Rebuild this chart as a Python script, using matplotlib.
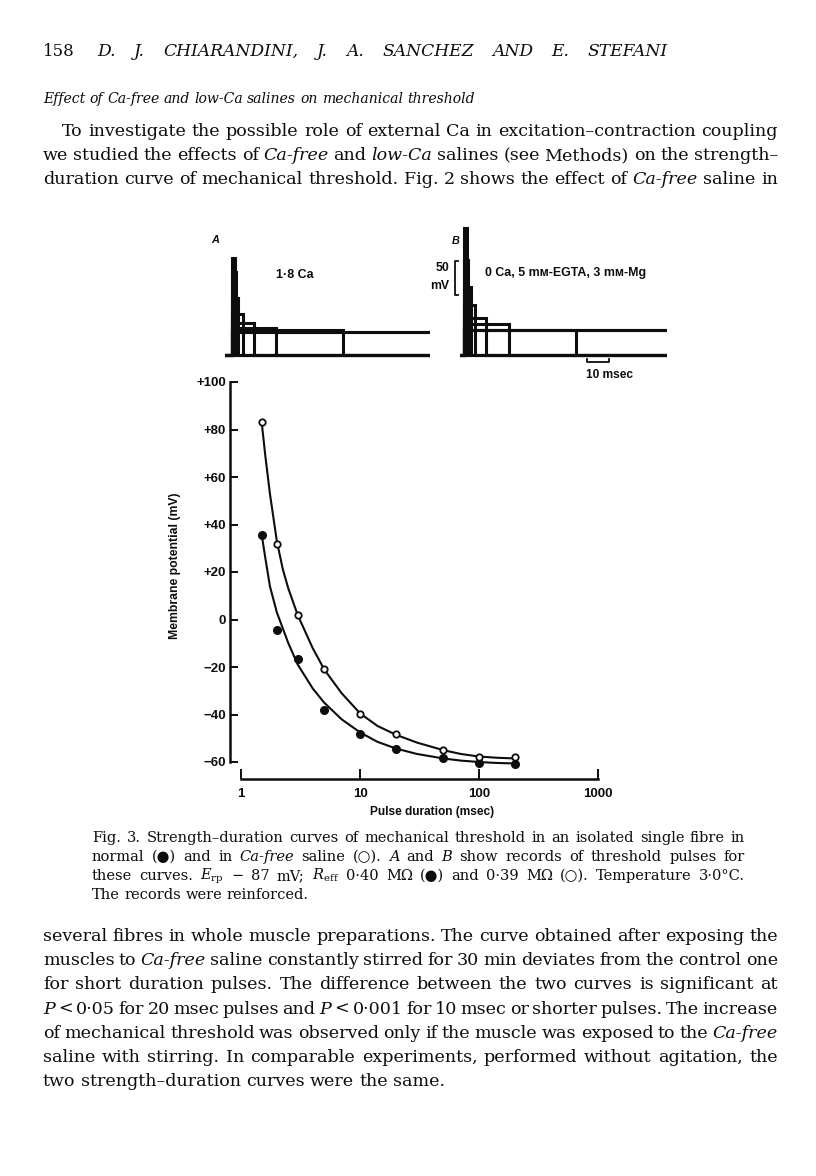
import matplotlib
matplotlib.use('Agg')
import matplotlib.pyplot as plt
from matplotlib.ticker import NullLocator

# page size in pixels (dpi 100)
W, H = 816, 1176
INK = '#0d0d0d'
SERIF = ['DejaVu Serif', 'DejaVu Sans']
SANS = ['Liberation Sans', 'DejaVu Sans']
plt.rcParams['mathtext.fontset'] = 'dejavuserif'

# --- data ---------------------------------------------------------------
durations = [1.5, 2, 3, 5, 10, 20, 50, 100, 200]          # msec
normal_mv = [35.5, -4.5, -16.5, -38, -48, -54.7, -58.5, -60.3, -60.8]
cafree_mv = [83, 32, 1.9, -21, -39.8, -48, -55, -57.8, -58]

# hand-drawn fitted curves
normal_fit_t = [1.5, 1.6, 1.75, 2, 2.5, 3, 4, 5, 7, 10, 14, 20, 30, 50, 70, 100, 140, 200]
normal_fit_mv = [35, 26, 14, 3, -10, -19, -29, -35, -42, -47.5, -51.5, -54.3, -56.6,
                 -58.5, -59.4, -60, -60.4, -60.6]
cafree_fit_t = [1.5, 1.6, 1.75, 2, 2.25, 2.5, 3, 4, 5, 7, 10, 14, 20, 30, 50, 70, 100, 140, 200]
cafree_fit_mv = [82, 69, 53, 33, 21, 13, 1.8, -12, -21, -31, -39.5, -44.8, -48.5, -51.8,
                 -55, -56.6, -57.7, -58.2, -58.5]

# inset records: pulse amplitude above rest (mV) for each duration
pulse_ms = [1.5, 2, 3, 5, 10, 20, 50, 100, 200]
rec_a_mv = [143, 122, 84, 60, 47, 40, 37, 34, 34]
rec_b_mv = [187, 140, 100, 74, 54, 46, 37, 37, 37]

yticks = [-60, -40, -20, 0, 20, 40, 60, 80, 100]
ytick_labels = ['\u221260', '\u221240', '\u221220', '0', '+20', '+40', '+60', '+80', '+100']
xticks = [1, 10, 100, 1000]
xtick_labels = ['1', '10', '100', '1000']

header_no = '158'
header = 'D. J. CHIARANDINI, J. A. SANCHEZ AND E. STEFANI'
heading = 'Effect of Ca-free and low-Ca salines on mechanical threshold'
body_top = [
    'To investigate the possible role of external Ca in excitation\u2013contraction coupling',
    'we studied the effects of *Ca-free* and *low-Ca* salines (see Methods) on the strength\u2013',
    'duration curve of mechanical threshold. Fig. 2 shows the effect of *Ca-free* saline in',
]
caption = [
    'Fig. 3. Strength\u2013duration curves of mechanical threshold in an isolated single fibre in',
    'normal (\u25cf) and in *Ca-free* saline (\u25cb). *A* and *B* show records of threshold pulses for',
    'these curves. $E_{\\mathrm{rp}}$ \u2212 87 mV; $R_{\\mathrm{eff}}$ 0\u00b740 M\u03a9 (\u25cf) and 0\u00b739 M\u03a9 (\u25cb). Temperature 3\u00b70\u00b0C.',
    'The records were reinforced.',
]
body_bottom = [
    'several fibres in whole muscle preparations. The curve obtained after exposing the',
    'muscles to *Ca-free* saline constantly stirred for 30 min deviates from the control one',
    'for short duration pulses. The difference between the two curves is significant at',
    '*P* < 0\u00b705 for 20 msec pulses and *P* < 0\u00b7001 for 10 msec or shorter pulses. The increase',
    'of mechanical threshold was observed only if the muscle was exposed to the *Ca-free*',
    'saline with stirring. In comparable experiments, performed without agitation, the',
    'two strength\u2013duration curves were the same.',
]


def fx(x):
    return x / W


def fy(y):
    return 1 - y / H


fig = plt.figure(figsize=(W / 100, H / 100), dpi=100)
fig.patch.set_facecolor('white')
renderer = fig.canvas.get_renderer()


def put_line(y, line, x0, x1, size, justify=True, italic=False):
    objs = []
    for tok in line.split(' '):
        style = 'italic' if italic else 'normal'
        if len(tok) > 2 and tok[0] == '*' and tok[-1] == '*':
            tok, style = tok[1:-1], 'italic'
        objs.append(fig.text(0, fy(y), tok, fontsize=size, fontstyle=style,
                             family=SERIF, color=INK, va='baseline'))
    widths = [o.get_window_extent(renderer).width for o in objs]
    if justify and len(objs) > 1:
        gap = (x1 - x0 - sum(widths)) / (len(objs) - 1)
    else:
        gap = size * 100 / 72 * 0.3
    x = x0
    for o, w in zip(objs, widths):
        o.set_x(fx(x))
        x += w + gap


# --- page text ------------------------------------------------------------
fig.text(fx(43), fy(56), header_no, fontsize=12, family=SERIF, color=INK, va='baseline')
put_line(56, header, 97, 668, 12.3, italic=True)
put_line(103, heading, 43, 468, 10.1, justify=False, italic=True)
for i, line in enumerate(body_top):
    put_line(136 + 24 * i, line, 62 if i == 0 else 43, 778, 12.6)
for i, line in enumerate(caption):
    put_line(842 + 19 * i, line, 92, 745, 10.5, justify=i < len(caption) - 1)
for i, line in enumerate(body_bottom):
    put_line(941 + 24.2 * i, line, 43, 778, 12.6, justify=i < len(body_bottom) - 1)

# --- main strength-duration plot ---------------------------------------------
AX_L, AX_R, X1_PX, DEC_PX = 230, 620, 241, 119
ax = fig.add_axes([fx(AX_L), fy(762), (AX_R - AX_L) / W, (762 - 382) / H])
ax.set_xscale('log')
ax.set_xlim(10 ** ((AX_L - X1_PX) / DEC_PX), 10 ** ((AX_R - X1_PX) / DEC_PX))
ax.set_ylim(-60, 100)
ax.plot(normal_fit_t, normal_fit_mv, color=INK, lw=1.5, clip_on=False)
ax.plot(cafree_fit_t, cafree_fit_mv, color=INK, lw=1.5, clip_on=False)
ax.plot(durations, normal_mv, 'o', ms=5.5, color=INK, clip_on=False, zorder=3)
ax.plot(durations, cafree_mv, 'o', ms=4.6, mfc='white', mec=INK, mew=1.3,
        clip_on=False, zorder=3)

for s in ['top', 'right']:
    ax.spines[s].set_visible(False)
ax.spines['left'].set_linewidth(1.8)
ax.spines['bottom'].set_linewidth(1.8)
ax.spines['bottom'].set_position(('outward', 12.2))
ax.spines['bottom'].set_bounds(1, 1000)
ax.spines['left'].set_color(INK)
ax.spines['bottom'].set_color(INK)
ax.set_yticks(yticks, ytick_labels, fontsize=9.5, fontweight='bold', family=SANS, color=INK)
ax.set_xticks(xticks, xtick_labels, fontsize=9.5, fontweight='bold', family=SANS, color=INK)
ax.xaxis.set_minor_locator(NullLocator())
ax.tick_params(axis='y', direction='in', length=5.8, width=1.4, pad=3, color=INK)
ax.tick_params(axis='x', direction='in', length=7, width=1.4, pad=6.5, color=INK)
ax.patch.set_alpha(0)

fig.text(fx(432), fy(812), 'Pulse duration (msec)', fontsize=8.6, fontweight='bold',
         family=SANS, color=INK, ha='center', va='center')
fig.text(fx(175), fy(566), 'Membrane potential (mV)', fontsize=8.8, fontweight='bold',
         family=SANS, color=INK, ha='center', va='center', rotation=90)

# --- inset records A and B -----------------------------------------------
PX_MS, PX_MV = 2.23, 0.68
ylo, yhi = (355 - 360) / PX_MV, (355 - 215) / PX_MV


def record_axes(x0, x1, onset, amps):
    a = fig.add_axes([fx(x0), fy(360), (x1 - x0) / W, 145 / H])
    a.axis('off')
    a.set_xlim((x0 - onset) / PX_MS, (x1 - onset) / PX_MS)
    a.set_ylim(ylo, yhi)
    for d, h in zip(pulse_ms, amps):
        a.plot([-20, 0, 0, d, d, 400], [0, 0, h, h, 0, 0], color=INK, lw=2.2,
               solid_joinstyle='miter', solid_capstyle='butt')
    return a


axA = record_axes(225, 430, 231.7, rec_a_mv)
axB = record_axes(460, 666.7, 464, rec_b_mv)

# 50 mV calibration bracket
bx = (455 - 464) / PX_MS
by = (355 - 295) / PX_MV
axB.plot([bx + 1.4, bx, bx, bx + 1.4], [by, by, by + 50, by + 50], color=INK, lw=1.3,
         clip_on=False)
axB.text((449 - 464) / PX_MS, (355 - 268) / PX_MV, '50', fontsize=8.8, fontweight='bold',
         family=SANS, color=INK, ha='right', va='center')
axB.text((449 - 464) / PX_MS, (355 - 286) / PX_MV, 'mV', fontsize=8.8, fontweight='bold',
         family=SANS, color=INK, ha='right', va='center')
# 10 msec time bar
tx0 = (586.7 - 464) / PX_MS
ty = (355 - 361.7) / PX_MV
axB.plot([tx0, tx0, tx0 + 10, tx0 + 10], [ty + 3.5, ty, ty, ty + 3.5], color=INK, lw=1.3,
         clip_on=False)
axB.text((610 - 464) / PX_MS, (355 - 375) / PX_MV, '10 msec', fontsize=8.6,
         fontweight='bold', family=SANS, color=INK, ha='center', va='center')

fig.text(fx(215), fy(240), 'A', fontsize=7.8, fontweight='bold', fontstyle='italic',
         family=SANS, color=INK, ha='center', va='center')
fig.text(fx(456), fy(241), 'B', fontsize=7.8, fontweight='bold', fontstyle='italic',
         family=SANS, color=INK, ha='center', va='center')
fig.text(fx(295), fy(275), '1\u00b78 Ca', fontsize=9, fontweight='bold', family=SANS,
         color=INK, ha='center', va='center')
fig.text(fx(485), fy(273), '0 Ca, 5 m\u1d0d-EGTA, 3 m\u1d0d-Mg', fontsize=8.9,
         fontweight='bold', family=SANS, color=INK, ha='left', va='center')

fig.savefig('out.png', dpi=100, facecolor='white')
